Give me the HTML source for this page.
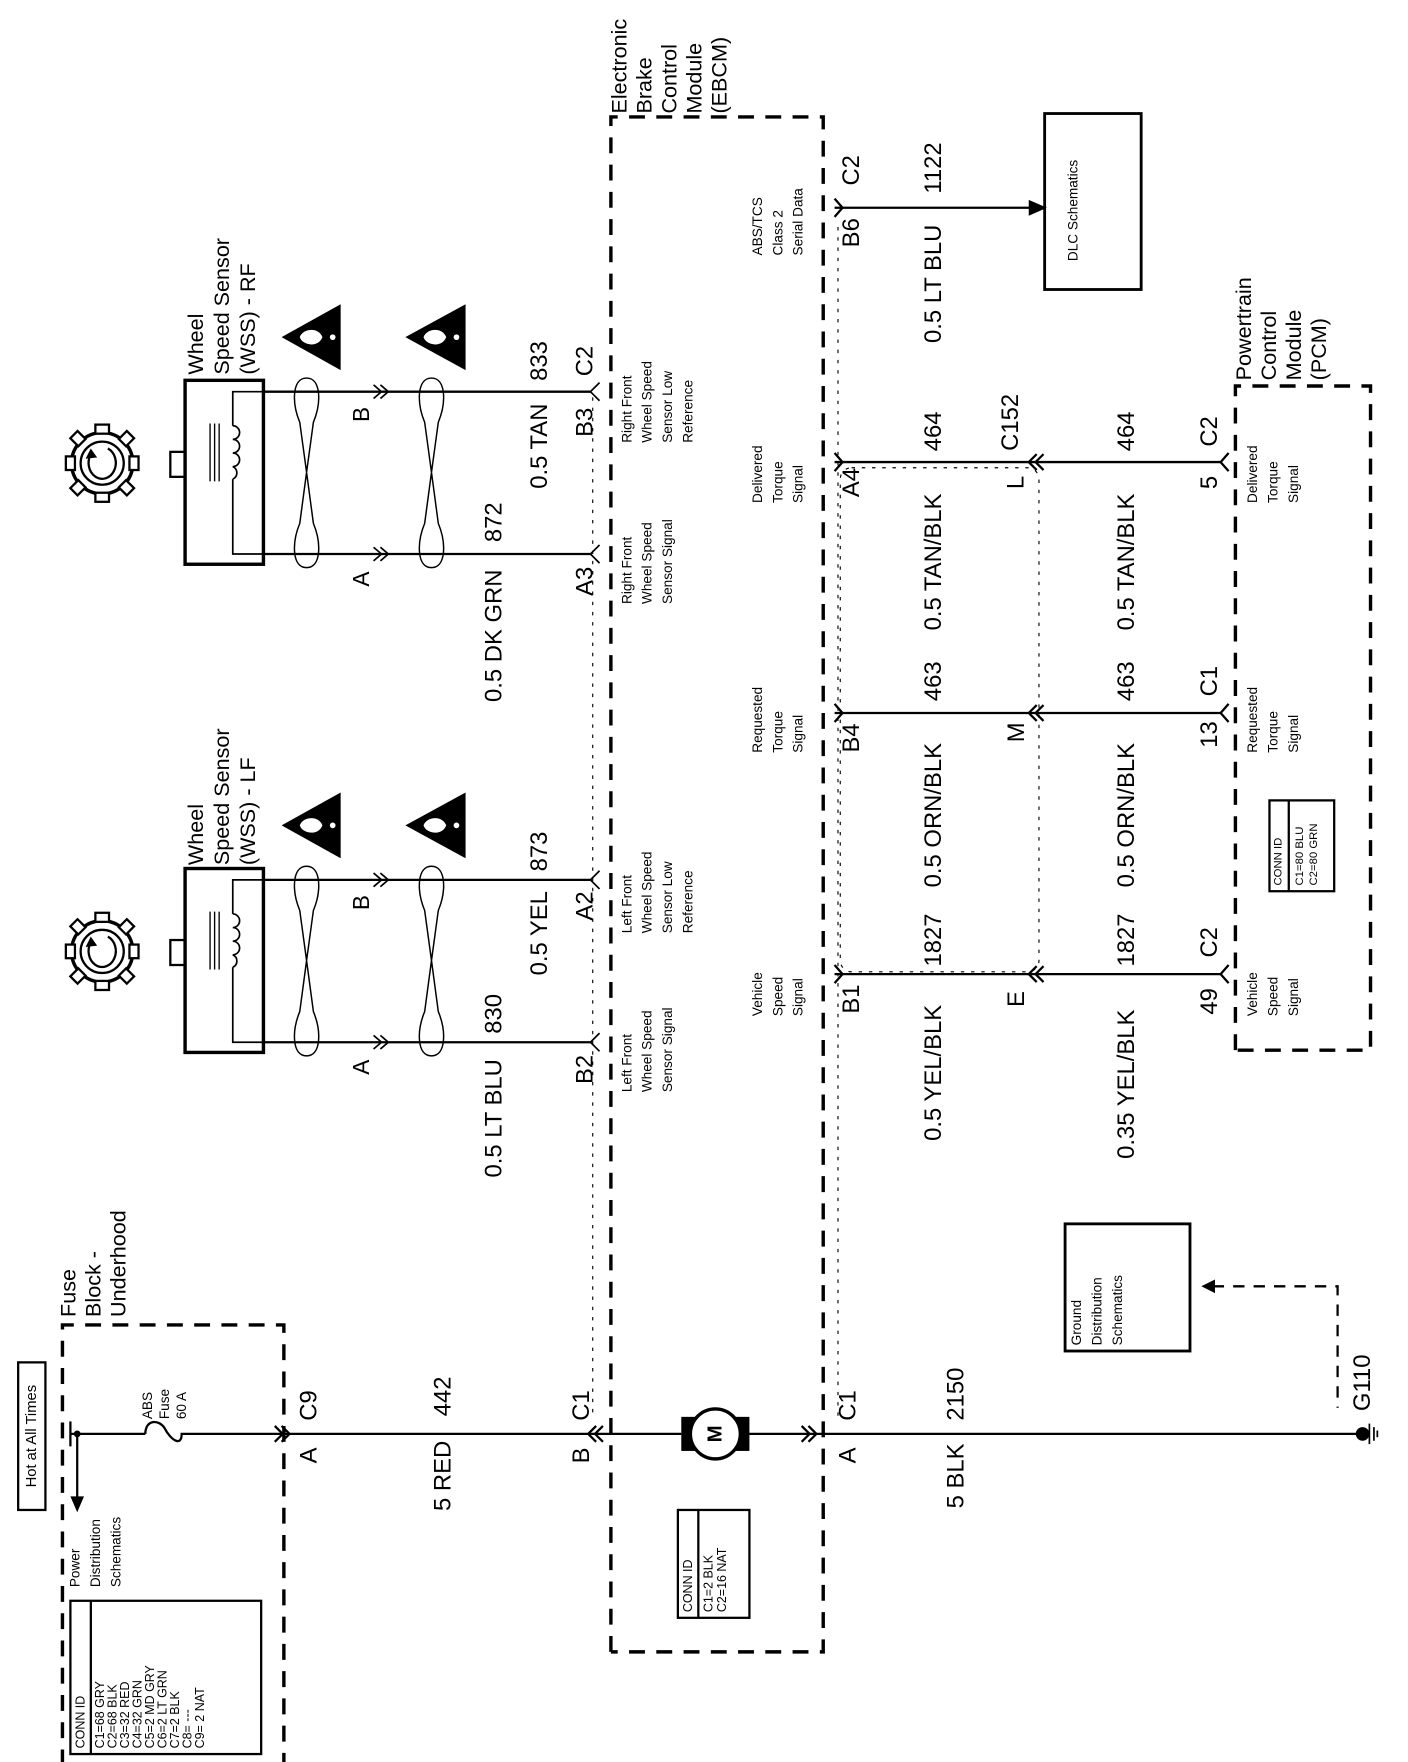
<!DOCTYPE html>
<html><head><meta charset="utf-8"><style>
html,body{margin:0;padding:0;background:#fff;}
svg{display:block;}
text{font-family:"Liberation Sans",Arial,sans-serif;fill:#000;}
</style></head><body>
<svg width="1408" height="1762" viewBox="0 0 1240 1552" preserveAspectRatio="none" xmlns="http://www.w3.org/2000/svg">
<defs>
<g id="sensor">
  <circle cx="90" cy="408" r="27" fill="none" stroke="#000" stroke-width="3"/>
  <circle cx="90" cy="408" r="19" fill="none" stroke="#000" stroke-width="2"/>
  <g fill="#fff" stroke="#000" stroke-width="2">
    <rect x="84" y="374" width="12" height="8"/><rect x="84" y="434" width="12" height="8"/>
    <rect x="58" y="402" width="8" height="12"/><rect x="114" y="402" width="8" height="12"/>
    <rect x="64" y="382" width="10" height="9" transform="rotate(45 69 386)"/>
    <rect x="106" y="382" width="10" height="9" transform="rotate(-45 111 386)"/>
    <rect x="64" y="425" width="10" height="9" transform="rotate(-45 69 430)"/>
    <rect x="106" y="425" width="10" height="9" transform="rotate(45 111 430)"/>
  </g>
  <path d="M80,400 A12,14 0 1 0 95,395" fill="none" stroke="#000" stroke-width="2"/>
  <path d="M76,404 L80,396 L85,403" fill="#000" stroke="#000" stroke-width="1"/>
  <rect x="150" y="398" width="13" height="22" fill="#fff" stroke="#000" stroke-width="2"/>
  <rect x="163" y="335" width="69" height="162" fill="none" stroke="#000" stroke-width="3"/>
  <path d="M232,345 H205 V375 M205,422 V488 H232" fill="none" stroke="#000" stroke-width="1.5"/>
  <path d="M205,375 a6,6 0 0 1 0,12 a6,6 0 0 1 0,12 a6,6 0 0 1 0,12 a6,6 0 0 1 0,11" fill="none" stroke="#000" stroke-width="1.5"/>
  <path d="M185,373 V424 M189,373 V424 M193,373 V424" stroke="#000" stroke-width="1.2"/>
  <line x1="232" y1="345" x2="520" y2="345" stroke="#000" stroke-width="2"/>
  <line x1="232" y1="488" x2="520" y2="488" stroke="#000" stroke-width="2"/>
  <path d="M329,339 L336,345 L329,351 M335,339 L342,345 L335,351 M329,482 L336,488 L329,494 M335,482 L342,488 L335,494" fill="none" stroke="#000" stroke-width="1.5"/>
  <g fill="none" stroke="#000" stroke-width="1.3">
    <path d="M270,333 C283,333 283,355 276,372 L270,416 L264,372 C257,355 257,333 270,333 Z"/>
    <path d="M270,500 C283,500 283,478 276,461 L270,416 L264,461 C257,478 257,500 270,500 Z"/>
    <path d="M380,333 C393,333 393,355 386,372 L380,416 L374,372 C367,355 367,333 380,333 Z"/>
    <path d="M380,500 C393,500 393,478 386,461 L380,416 L374,461 C367,478 367,500 380,500 Z"/>
  </g>
  <path d="M528,337 L520,345 L528,353 M528,480 L520,488 L528,496" fill="none" stroke="#000" stroke-width="1.5"/>
  <polygon points="248,297 300,268 300,326" fill="#000"/>
  <polygon points="357,297 410,268 410,326" fill="#000"/>
  <path d="M264,297 C266,290 280,287 284,297 C280,307 266,304 264,297 Z" fill="#fff"/>
  <circle cx="293" cy="297" r="2.5" fill="#fff"/>
  <path d="M373,297 C375,290 389,287 393,297 C389,307 375,304 373,297 Z" fill="#fff"/>
  <circle cx="402" cy="297" r="2.5" fill="#fff"/>
  <g font-size="20" text-anchor="middle" dominant-baseline="central">
    <text x="318" y="365" transform="rotate(-90 318 365)">B</text>
    <text x="318" y="510" transform="rotate(-90 318 510)">A</text>
  </g>
</g>
</defs>

<use href="#sensor"/>
<use href="#sensor" transform="translate(0,430)"/>

<g font-size="19" dominant-baseline="central">
  <text x="172" y="330" transform="rotate(-90 172 330)">Wheel</text>
  <text x="195" y="330" transform="rotate(-90 195 330)">Speed Sensor</text>
  <text x="218" y="330" transform="rotate(-90 218 330)">(WSS)  - RF</text>
  <text x="172" y="762" transform="rotate(-90 172 762)">Wheel</text>
  <text x="195" y="762" transform="rotate(-90 195 762)">Speed Sensor</text>
  <text x="218" y="762" transform="rotate(-90 218 762)">(WSS)  - LF</text>
  <text x="545" y="100" transform="rotate(-90 545 100)">Electronic</text>
  <text x="567" y="100" transform="rotate(-90 567 100)">Brake</text>
  <text x="589" y="100" transform="rotate(-90 589 100)">Control</text>
  <text x="611" y="100" transform="rotate(-90 611 100)">Module</text>
  <text x="633" y="100" transform="rotate(-90 633 100)">(EBCM)</text>
  <text x="1095" y="335" transform="rotate(-90 1095 335)">Powertrain</text>
  <text x="1117" y="335" transform="rotate(-90 1117 335)">Control</text>
  <text x="1139" y="335" transform="rotate(-90 1139 335)">Module</text>
  <text x="1161" y="335" transform="rotate(-90 1161 335)">(PCM)</text>
  <text x="60" y="1160" transform="rotate(-90 60 1160)">Fuse</text>
  <text x="82" y="1160" transform="rotate(-90 82 1160)">Block -</text>
  <text x="104" y="1160" transform="rotate(-90 104 1160)">Underhood</text>
</g>

<g fill="none" stroke="#000" stroke-width="3" stroke-dasharray="14,10">
  <path d="M538,1455 V103 H725 V1455 H538"/>
  <path d="M55,1555 V1167 H250 V1555"/>
  <path d="M1088,925 V340 H1207 V925 H1088"/>
</g>
<g fill="none" stroke="#000" stroke-width="1" stroke-dasharray="3,6">
  <line x1="738" y1="200" x2="738" y2="1250"/>
  <rect x="740" y="412" width="175" height="444" rx="10"/>
  <line x1="522" y1="350" x2="522" y2="1250"/>
</g>

<g font-size="12" dominant-baseline="central">
  <text x="552" y="390" transform="rotate(-90 552 390)">Right Front</text>
  <text x="570" y="390" transform="rotate(-90 570 390)">Wheel Speed</text>
  <text x="588" y="390" transform="rotate(-90 588 390)">Sensor Low</text>
  <text x="606" y="390" transform="rotate(-90 606 390)">Reference</text>
  <text x="552" y="532" transform="rotate(-90 552 532)">Right Front</text>
  <text x="570" y="532" transform="rotate(-90 570 532)">Wheel Speed</text>
  <text x="588" y="532" transform="rotate(-90 588 532)">Sensor Signal</text>
  <text x="552" y="822" transform="rotate(-90 552 822)">Left Front</text>
  <text x="570" y="822" transform="rotate(-90 570 822)">Wheel Speed</text>
  <text x="588" y="822" transform="rotate(-90 588 822)">Sensor Low</text>
  <text x="606" y="822" transform="rotate(-90 606 822)">Reference</text>
  <text x="552" y="962" transform="rotate(-90 552 962)">Left Front</text>
  <text x="570" y="962" transform="rotate(-90 570 962)">Wheel Speed</text>
  <text x="588" y="962" transform="rotate(-90 588 962)">Sensor Signal</text>

  <text x="667" y="225" transform="rotate(-90 667 225)">ABS/TCS</text>
  <text x="685" y="225" transform="rotate(-90 685 225)">Class 2</text>
  <text x="703" y="225" transform="rotate(-90 703 225)">Serial Data</text>
  <text x="667" y="443" transform="rotate(-90 667 443)">Delivered</text>
  <text x="685" y="443" transform="rotate(-90 685 443)">Torque</text>
  <text x="703" y="443" transform="rotate(-90 703 443)">Signal</text>
  <text x="667" y="663" transform="rotate(-90 667 663)">Requested</text>
  <text x="685" y="663" transform="rotate(-90 685 663)">Torque</text>
  <text x="703" y="663" transform="rotate(-90 703 663)">Signal</text>
  <text x="667" y="895" transform="rotate(-90 667 895)">Vehicle</text>
  <text x="685" y="895" transform="rotate(-90 685 895)">Speed</text>
  <text x="703" y="895" transform="rotate(-90 703 895)">Signal</text>

  <text x="1103" y="443" transform="rotate(-90 1103 443)">Delivered</text>
  <text x="1121" y="443" transform="rotate(-90 1121 443)">Torque</text>
  <text x="1139" y="443" transform="rotate(-90 1139 443)">Signal</text>
  <text x="1103" y="663" transform="rotate(-90 1103 663)">Requested</text>
  <text x="1121" y="663" transform="rotate(-90 1121 663)">Torque</text>
  <text x="1139" y="663" transform="rotate(-90 1139 663)">Signal</text>
  <text x="1103" y="895" transform="rotate(-90 1103 895)">Vehicle</text>
  <text x="1121" y="895" transform="rotate(-90 1121 895)">Speed</text>
  <text x="1139" y="895" transform="rotate(-90 1139 895)">Signal</text>

  <text x="66" y="1398" transform="rotate(-90 66 1398)">Power</text>
  <text x="84" y="1398" transform="rotate(-90 84 1398)">Distribution</text>
  <text x="102" y="1398" transform="rotate(-90 102 1398)">Schematics</text>
  <text x="130" y="1250" transform="rotate(-90 130 1250)">ABS</text>
  <text x="145" y="1250" transform="rotate(-90 145 1250)">Fuse</text>
  <text x="160" y="1250" transform="rotate(-90 160 1250)">60 A</text>
  <text x="948" y="1185" transform="rotate(-90 948 1185)">Ground</text>
  <text x="966" y="1185" transform="rotate(-90 966 1185)">Distribution</text>
  <text x="984" y="1185" transform="rotate(-90 984 1185)">Schematics</text>
  <text x="945" y="230" transform="rotate(-90 945 230)">DLC Schematics</text>
</g>

<g stroke="#000" stroke-width="2" fill="none">
  <line x1="735" y1="183" x2="910" y2="183"/>
  <line x1="735" y1="407" x2="1075" y2="407"/>
  <line x1="735" y1="628" x2="1075" y2="628"/>
  <line x1="735" y1="858" x2="1075" y2="858"/>
  <line x1="62" y1="1263" x2="128" y2="1263"/>
  <line x1="166" y1="1263" x2="600" y2="1263"/>
  <line x1="660" y1="1263" x2="1200" y2="1263"/>
  <path d="M128,1263 C128,1250 140,1250 145,1258 C150,1268 160,1275 160,1263 L166,1263"/>
  <line x1="68" y1="1263" x2="68" y2="1322"/>
  <line x1="62" y1="1252" x2="62" y2="1274"/>
  <path d="M735,175 L742,183 L735,191 M735,399 L742,407 L735,415 M735,620 L742,628 L735,636 M735,850 L742,858 L735,866"/>
  <path d="M1082,399 L1075,407 L1082,415 M1082,620 L1075,628 L1082,636 M1082,850 L1075,858 L1082,866"/>
  <path d="M913,400 L906,407 L913,414 M919,400 L912,407 L919,414 M913,621 L906,628 L913,635 M919,621 L912,628 L919,635 M913,851 L906,858 L913,865 M919,851 L912,858 L919,865"/>
  <path d="M242,1256 L249,1263 L242,1270 M248,1256 L255,1263 L248,1270 M525,1256 L518,1263 L525,1270 M531,1256 L524,1263 L531,1270 M706,1256 L713,1263 L706,1270 M712,1256 L719,1263 L712,1270"/>
</g>
<polygon points="922,183 906,176 906,190" fill="#000"/>
<polygon points="68,1332 62,1318 74,1318" fill="#000"/>
<circle cx="68" cy="1263" r="3" fill="#000"/>
<rect x="920" y="100" width="85" height="155" fill="none" stroke="#000" stroke-width="2.5"/>
<rect x="938" y="1078" width="110" height="112" fill="none" stroke="#000" stroke-width="2.5"/>
<path d="M1068,1133 H1178 V1240" fill="none" stroke="#000" stroke-width="2" stroke-dasharray="10,8"/>
<polygon points="1058,1133 1070,1127 1070,1139" fill="#000"/>
<circle cx="1200" cy="1263" r="6" fill="#000"/>
<path d="M1206,1254 V1272 M1210,1257 V1269 M1213,1260 V1266" stroke="#000" stroke-width="1.5"/>

<rect x="600" y="1248" width="60" height="30" fill="#000"/>
<circle cx="630" cy="1263" r="22" fill="#fff" stroke="#000" stroke-width="3"/>
<text x="630" y="1263" font-size="18" font-weight="bold" text-anchor="middle" dominant-baseline="central" transform="rotate(-90 630 1263)">M</text>

<rect x="16" y="1200" width="24" height="130" fill="none" stroke="#000" stroke-width="2"/>
<text x="28" y="1265" font-size="13" text-anchor="middle" dominant-baseline="central" transform="rotate(-90 28 1265)">Hot at All Times</text>

<g fill="none" stroke="#000" stroke-width="2">
  <rect x="62" y="1410" width="168" height="135"/><line x1="80" y1="1410" x2="80" y2="1545"/>
  <rect x="597" y="1330" width="63" height="95"/><line x1="615" y1="1330" x2="615" y2="1425"/>
  <rect x="1118" y="705" width="57" height="80"/><line x1="1135" y1="705" x2="1135" y2="785"/>
</g>
<g font-size="11" dominant-baseline="central">
  <text x="71" y="1540" transform="rotate(-90 71 1540)">CONN ID</text>
  <text x="88" y="1540" transform="rotate(-90 88 1540)">C1=68 GRY</text>
  <text x="99" y="1540" transform="rotate(-90 99 1540)">C2=68 BLK</text>
  <text x="110" y="1540" transform="rotate(-90 110 1540)">C3=32 RED</text>
  <text x="121" y="1540" transform="rotate(-90 121 1540)">C4=32 GRN</text>
  <text x="132" y="1540" transform="rotate(-90 132 1540)">C5=2 MD GRY</text>
  <text x="143" y="1540" transform="rotate(-90 143 1540)">C6=2 LT GRN</text>
  <text x="154" y="1540" transform="rotate(-90 154 1540)">C7=2 BLK</text>
  <text x="165" y="1540" transform="rotate(-90 165 1540)">C8= ---</text>
  <text x="176" y="1540" transform="rotate(-90 176 1540)">C9= 2 NAT</text>
  <text x="606" y="1420" transform="rotate(-90 606 1420)">CONN ID</text>
  <text x="624" y="1420" transform="rotate(-90 624 1420)">C1=2 BLK</text>
  <text x="636" y="1420" transform="rotate(-90 636 1420)">C2=16 NAT</text>
  <text x="1126" y="780" font-size="10" transform="rotate(-90 1126 780)">CONN ID</text>
  <text x="1145" y="780" font-size="10" transform="rotate(-90 1145 780)">C1=80 BLU</text>
  <text x="1157" y="780" font-size="10" transform="rotate(-90 1157 780)">C2=80 GRN</text>
</g>

<g font-size="21" text-anchor="middle" dominant-baseline="central">
  <text x="475" y="318" transform="rotate(-90 475 318)">833</text>
  <text x="475" y="393" transform="rotate(-90 475 393)">0.5 TAN</text>
  <text x="515" y="318" transform="rotate(-90 515 318)">C2</text>
  <text x="515" y="372" transform="rotate(-90 515 372)">B3</text>
  <text x="435" y="460" transform="rotate(-90 435 460)">872</text>
  <text x="435" y="560" transform="rotate(-90 435 560)">0.5 DK GRN</text>
  <text x="515" y="512" transform="rotate(-90 515 512)">A3</text>
  <text x="475" y="750" transform="rotate(-90 475 750)">873</text>
  <text x="475" y="822" transform="rotate(-90 475 822)">0.5 YEL</text>
  <text x="515" y="798" transform="rotate(-90 515 798)">A2</text>
  <text x="435" y="893" transform="rotate(-90 435 893)">830</text>
  <text x="435" y="985" transform="rotate(-90 435 985)">0.5 LT BLU</text>
  <text x="515" y="942" transform="rotate(-90 515 942)">B2</text>

  <text x="750" y="150" transform="rotate(-90 750 150)">C2</text>
  <text x="750" y="205" transform="rotate(-90 750 205)">B6</text>
  <text x="822" y="148" transform="rotate(-90 822 148)">1122</text>
  <text x="822" y="250" transform="rotate(-90 822 250)">0.5 LT BLU</text>
  <text x="750" y="425" transform="rotate(-90 750 425)">A4</text>
  <text x="822" y="380" transform="rotate(-90 822 380)">464</text>
  <text x="822" y="495" transform="rotate(-90 822 495)">0.5 TAN/BLK</text>
  <text x="890" y="372" transform="rotate(-90 890 372)">C152</text>
  <text x="895" y="425" transform="rotate(-90 895 425)">L</text>
  <text x="992" y="380" transform="rotate(-90 992 380)">464</text>
  <text x="992" y="495" transform="rotate(-90 992 495)">0.5 TAN/BLK</text>
  <text x="1065" y="380" transform="rotate(-90 1065 380)">C2</text>
  <text x="1065" y="425" transform="rotate(-90 1065 425)">5</text>
  <text x="750" y="650" transform="rotate(-90 750 650)">B4</text>
  <text x="822" y="600" transform="rotate(-90 822 600)">463</text>
  <text x="822" y="718" transform="rotate(-90 822 718)">0.5 ORN/BLK</text>
  <text x="895" y="645" transform="rotate(-90 895 645)">M</text>
  <text x="992" y="600" transform="rotate(-90 992 600)">463</text>
  <text x="992" y="718" transform="rotate(-90 992 718)">0.5 ORN/BLK</text>
  <text x="1065" y="600" transform="rotate(-90 1065 600)">C1</text>
  <text x="1065" y="647" transform="rotate(-90 1065 647)">13</text>
  <text x="750" y="880" transform="rotate(-90 750 880)">B1</text>
  <text x="822" y="828" transform="rotate(-90 822 828)">1827</text>
  <text x="822" y="945" transform="rotate(-90 822 945)">0.5 YEL/BLK</text>
  <text x="895" y="880" transform="rotate(-90 895 880)">E</text>
  <text x="992" y="828" transform="rotate(-90 992 828)">1827</text>
  <text x="992" y="955" transform="rotate(-90 992 955)">0.35 YEL/BLK</text>
  <text x="1065" y="830" transform="rotate(-90 1065 830)">C2</text>
  <text x="1065" y="882" transform="rotate(-90 1065 882)">49</text>

  <text x="272" y="1238" transform="rotate(-90 272 1238)">C9</text>
  <text x="272" y="1282" transform="rotate(-90 272 1282)">A</text>
  <text x="390" y="1230" transform="rotate(-90 390 1230)">442</text>
  <text x="390" y="1300" transform="rotate(-90 390 1300)">5 RED</text>
  <text x="512" y="1238" transform="rotate(-90 512 1238)">C1</text>
  <text x="512" y="1282" transform="rotate(-90 512 1282)">B</text>
  <text x="747" y="1238" transform="rotate(-90 747 1238)">C1</text>
  <text x="747" y="1282" transform="rotate(-90 747 1282)">A</text>
  <text x="842" y="1228" transform="rotate(-90 842 1228)">2150</text>
  <text x="842" y="1300" transform="rotate(-90 842 1300)">5 BLK</text>
  <text x="1200" y="1218" transform="rotate(-90 1200 1218)">G110</text>
</g>
</svg>
</body></html>
